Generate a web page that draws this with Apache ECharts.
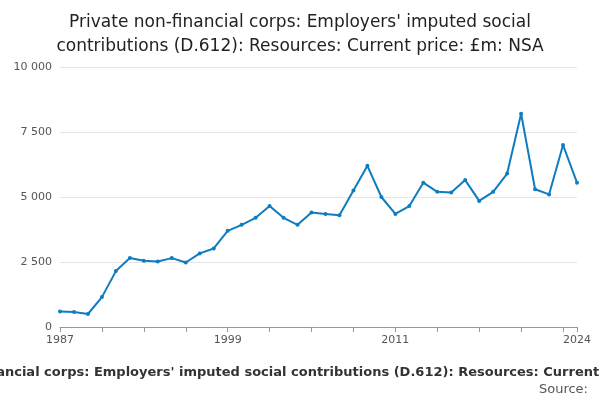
<!DOCTYPE html>
<html>
<head>
<meta charset="utf-8">
<script src="https://cdn.jsdelivr.net/npm/echarts@6/dist/echarts.min.js"></script>
<style>html,body{margin:0;padding:0;background:#fff}#chart{width:600px;height:400px}</style>
</head>
<body>
<div id="chart"></div>
<script>
// years 1987 - 2024
var years = [];
for (var y = 1987; y <= 2024; y++) years.push(String(y));
var values = [600, 580, 500, 1150, 2150, 2650, 2550, 2520, 2650, 2480,
    2830, 3020, 3700, 3930, 4200, 4650, 4200, 3930, 4400, 4350,
    4300, 5250, 6200, 5000, 4350, 4650, 5550, 5200, 5170, 5650,
    4850, 5200, 5900, 8200, 5300, 5100, 7000, 5550];
var labelYears = ['1987', '1999', '2011', '2024'];
var titleText = "Private non-financial corps: Employers' imputed social\ncontributions (D.612): Resources: Current price: £m: NSA";
var footText = "Private non-financial corps: Employers' imputed social contributions (D.612): Resources: Current price: £m: NSA";

var myChart = echarts.init(document.getElementById('chart'));
var option = {
    title: {
        text: titleText,
        left: 'center',
        top: 6,
        textStyle: { fontFamily: 'DejaVu Sans', fontSize: 17, fontWeight: 'normal', color: '#222', lineHeight: 24 }
    },
    grid: { left: 60, right: 23, top: 67, bottom: 73 },
    xAxis: {
        type: 'category',
        data: years,
        boundaryGap: false,
        axisLine: { lineStyle: { color: '#999' } },
        axisTick: {
            lineStyle: { color: '#999' },
            interval: function (i) { return i % 3 === 0 || i === years.length - 1; }
        },
        axisLabel: {
            color: '#555', fontFamily: 'DejaVu Sans', fontSize: 11,
            interval: function (i, v) { return labelYears.indexOf(v) >= 0; }
        }
    },
    yAxis: {
        type: 'value',
        min: 0, max: 10000, interval: 2500,
        axisLine: { show: false },
        axisTick: { show: false },
        splitLine: { lineStyle: { color: '#e6e6e6' } },
        axisLabel: {
            color: '#555', fontFamily: 'DejaVu Sans', fontSize: 11,
            formatter: function (v) { return v >= 10000 ? '10 000' : String(v).replace(/(\d)(\d{3})$/, '$1 $2'); }
        }
    },
    series: [{
        type: 'line',
        data: values,
        symbol: 'circle',
        symbolSize: 4,
        itemStyle: { color: '#0f7cc0' },
        lineStyle: { color: '#0f7cc0', width: 2 }
    }],
    graphic: [
        { type: 'text', left: 'center', top: 366,
          style: { text: footText, font: 'bold 13px DejaVu Sans', fill: '#333' } },
        { type: 'text', right: 12, top: 383,
          style: { text: 'Source:', font: '13px DejaVu Sans', fill: '#555' } }
    ]
};
myChart.setOption(option);
</script>
</body>
</html>
